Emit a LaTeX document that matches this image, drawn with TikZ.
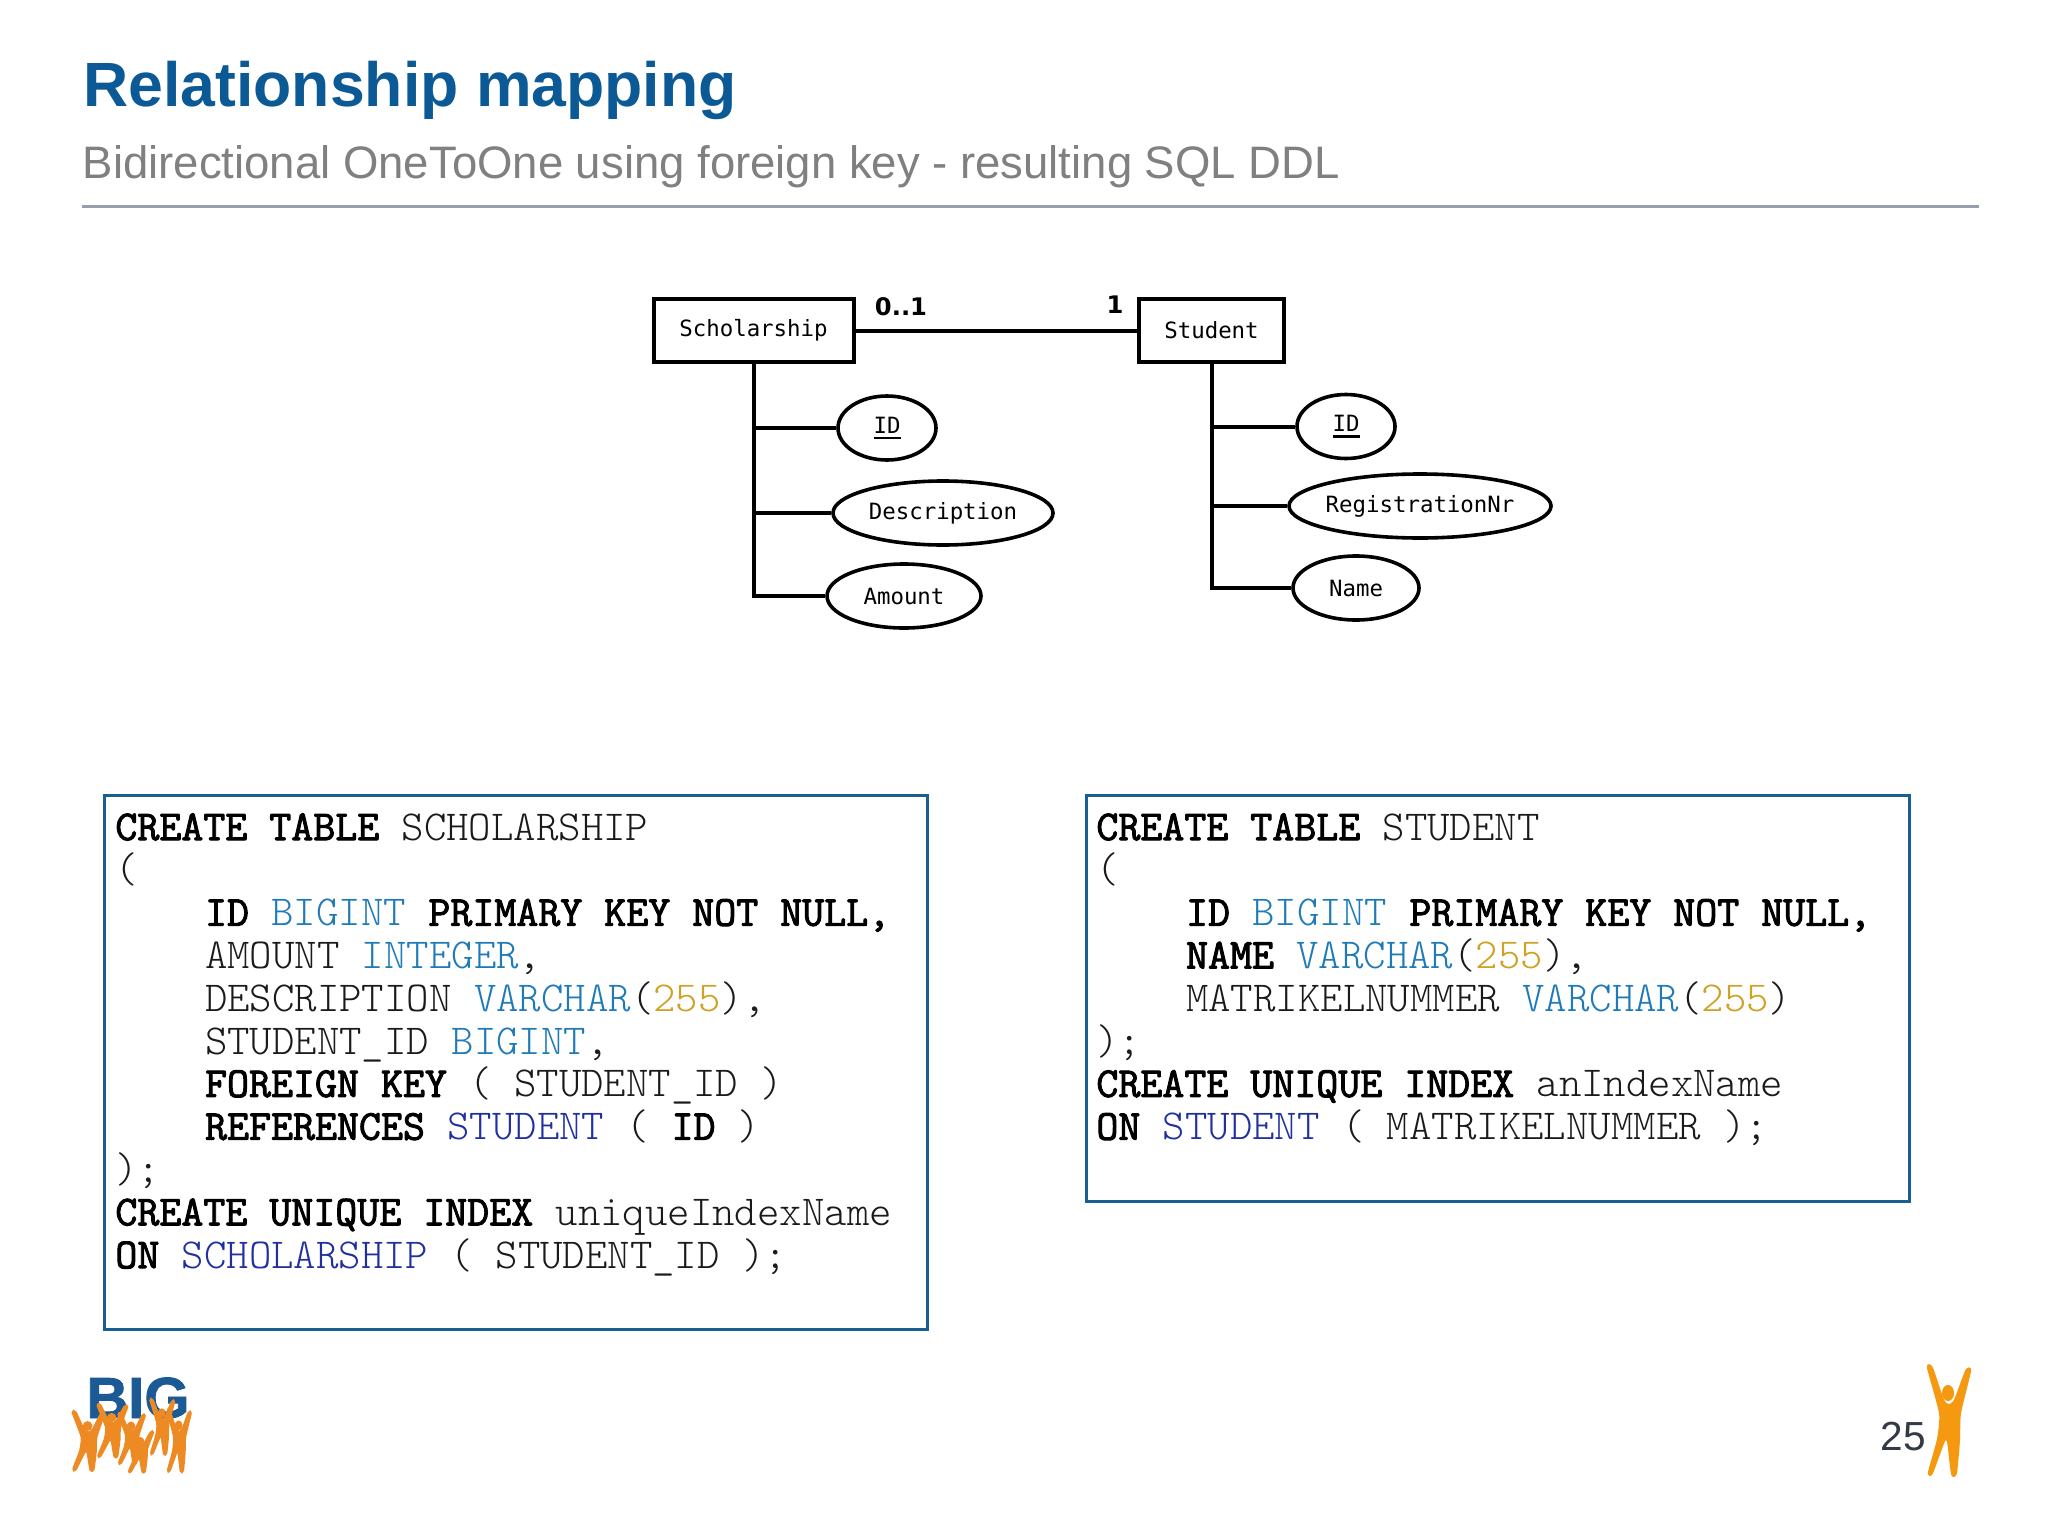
\documentclass[tikz,border=0pt]{standalone}
\usepackage{fontspec}
\setmainfont{Liberation Sans}
\newfontfamily\ermono{DejaVu Sans Mono}
\newfontfamily\erbold{DejaVu Sans}
\newfontfamily\sqlmono[BoldFont={Latin Modern Mono},BoldFeatures={FakeBold=2.2}]{Latin Modern Mono Light}
\newfontfamily\logofont[BoldFeatures={FakeBold=1.5}]{Liberation Sans}
\usetikzlibrary{shapes.geometric}
\definecolor{titleblue}{HTML}{0B5A96}
\definecolor{subgray}{HTML}{808080}
\definecolor{rulegray}{HTML}{989EAC}
\definecolor{boxblue}{HTML}{1A5F92}
\definecolor{typeblue}{HTML}{1F7AB8}
\definecolor{tblblue}{HTML}{2030A0}
\definecolor{numgold}{HTML}{CFA124}
\definecolor{codeink}{HTML}{1A1A1A}
\definecolor{logoblue}{HTML}{1C5A96}
\definecolor{logoorange}{HTML}{EE8A23}
\definecolor{manorange}{HTML}{F59A10}
\definecolor{pageink}{HTML}{333A45}
\newcommand{\kw}[1]{\textbf{\textcolor{black}{#1}}}
\newcommand{\ty}[1]{\textcolor{typeblue}{#1}}
\newcommand{\tb}[1]{\textcolor{tblblue}{#1}}
\newcommand{\nm}[1]{\textcolor{numgold}{#1}}
\newcommand{\ind}{\phantom{XXXX}}
\newcommand{\keyid}{\vtop{\hbox{ID}\kern 1.7pt\hrule height 1.3pt}}
\tikzset{
  x=0.5pt,y=-0.5pt,
  entity/.style={draw,line width=2pt,rectangle,inner sep=0pt,font=\ermono\fontsize{11.2}{13}\selectfont},
  attr/.style={draw,line width=1.8pt,ellipse,inner sep=0pt,minimum height=32pt,font=\ermono\fontsize{11.2}{13}\selectfont},
  conn/.style={line width=2pt},
  card/.style={inner sep=0pt,font=\erbold\bfseries\fontsize{12.1}{14}\selectfont},
  sqlbox/.style={draw=boxblue,line width=1.5pt,rectangle,inner sep=0pt,anchor=north west},
  sqlcode/.style={inner sep=0pt,anchor=north west,align=left,text=codeink,font=\sqlmono\fontsize{21.35}{21.4}\selectfont},
  person/.pic={
    \filldraw plot[smooth cycle,tension=0.35] coordinates {(1,1)(5,1)(16,33)(22,38)(28,33)(39,4)(43,4)(33,46)(32,73)(29,106)(25,107)(21,75)(17,74)(5,106)(2,105)(11,72)(13,46)};
    \filldraw (21,26) ellipse (5 and 7);
  }
}
\begin{document}
\begin{tikzpicture}
\useasboundingbox (0,0) rectangle (2048,1536);
\fill[white] (0,0) rectangle (2048,1536);
% header
\node[anchor=base west,inner sep=0pt,text=titleblue,font=\bfseries\fontsize{31.27}{36}\selectfont] (title) at (83,106) {Relationship mapping};
\node[anchor=base west,inner sep=0pt,text=subgray,font=\fontsize{22.75}{28}\selectfont] (subtitle) at (82.5,178) {Bidirectional OneToOne using foreign key - resulting SQL DDL};
\coordinate (ruleL) at (82,206.5);
\coordinate (ruleR) at (1979,206.5);
\draw[rulegray,line width=1.5pt] (ruleL) -- (ruleR);
% ER
\node[entity,minimum width=100pt,minimum height=31.5pt] (sch) at (753.5,330.5) {Scholarship};
\node[entity,minimum width=72.5pt,minimum height=31.5pt] (stu) at (1211.5,330.5) {Student};
\node[attr,minimum width=49pt] (sid) at (887,428) {\keyid};
\node[attr,minimum width=110pt] (sdesc) at (943,513) {Description};
\node[attr,minimum width=77pt] (samt) at (904,596) {Amount};
\node[attr,minimum width=49pt] (tid) at (1346,426.5) {\keyid};
\node[attr,minimum width=131pt] (treg) at (1420,506) {\makebox[0pt][c]{RegistrationNr}};
\node[attr,minimum width=63pt] (tname) at (1356,588) {Name};
\draw[conn] (sch.east) -- (stu.west);
\draw[conn] (sch.south) |- (samt.west);
\draw[conn] (sch.south |- sid.west) -- (sid.west);
\draw[conn] (sch.south |- sdesc.west) -- (sdesc.west);
\draw[conn] (stu.south) |- (tname.west);
\draw[conn] (stu.south |- tid.west) -- (tid.west);
\draw[conn] (stu.south |- treg.west) -- (treg.west);
\node[card] (c01) at (901,307) {0..1};
\node[card] (c1) at (1115,304.5) {1};
% SQL boxes
\node[sqlbox,minimum width=411.5pt,minimum height=267pt] (boxL) at (102.5,794) {};
\node[sqlbox,minimum width=411.5pt,minimum height=203pt] (boxR) at (1085,794) {};
\node[sqlcode] (codeL) at (115,813) {\kw{CREATE TABLE} SCHOLARSHIP\\
(\\
\ind\kw{ID} \ty{BIGINT} \kw{PRIMARY KEY NOT NULL,}\\
\ind AMOUNT \ty{INTEGER},\\
\ind DESCRIPTION \ty{VARCHAR}(\nm{255}),\\
\ind STUDENT\_ID \ty{BIGINT},\\
\ind\kw{FOREIGN KEY} ( STUDENT\_ID )\\
\ind\kw{REFERENCES} \tb{STUDENT} ( \kw{ID} )\\
);\\
\kw{CREATE UNIQUE INDEX} uniqueIndexName\\
\kw{ON} \tb{SCHOLARSHIP} ( STUDENT\_ID );};
\node[sqlcode] (codeR) at (1096,813) {\kw{CREATE TABLE} STUDENT\\
(\\
\ind\kw{ID} \ty{BIGINT} \kw{PRIMARY KEY NOT NULL,}\\
\ind\kw{NAME} \ty{VARCHAR}(\nm{255}),\\
\ind MATRIKELNUMMER \ty{VARCHAR}(\nm{255})\\
);\\
\kw{CREATE UNIQUE INDEX} anIndexName\\
\kw{ON} \tb{STUDENT} ( MATRIKELNUMMER );};
% logo
\node[anchor=base west,inner sep=0pt,text=logoblue,font=\logofont\bfseries\fontsize{29}{30}\selectfont] (big) at (86,1418) {BIG};
\begin{scope}[fill=logoorange,draw=logoorange,line width=1.1pt]
\pic[xscale=.74,yscale=.54] at (72,1412) {person};
\pic[xscale=.70,yscale=.48] at (97,1405) {person};
\pic[xscale=.62,yscale=.46] at (118,1414) {person};
\pic[xscale=.56,yscale=.50] at (150,1400) {person};
\pic[xscale=.55,yscale=.56] at (167,1411) {person};
\pic[xscale=.58,yscale=.38] at (128,1431) {person};
\end{scope}
% page
\node[anchor=base west,inner sep=0pt,text=pageink,font=\fontsize{20.3}{22}\selectfont] (page) at (1880.5,1450) {25};
\pic[fill=manorange,draw=manorange,line width=1pt] at (1927,1367) {person};
\end{tikzpicture}
\end{document}
